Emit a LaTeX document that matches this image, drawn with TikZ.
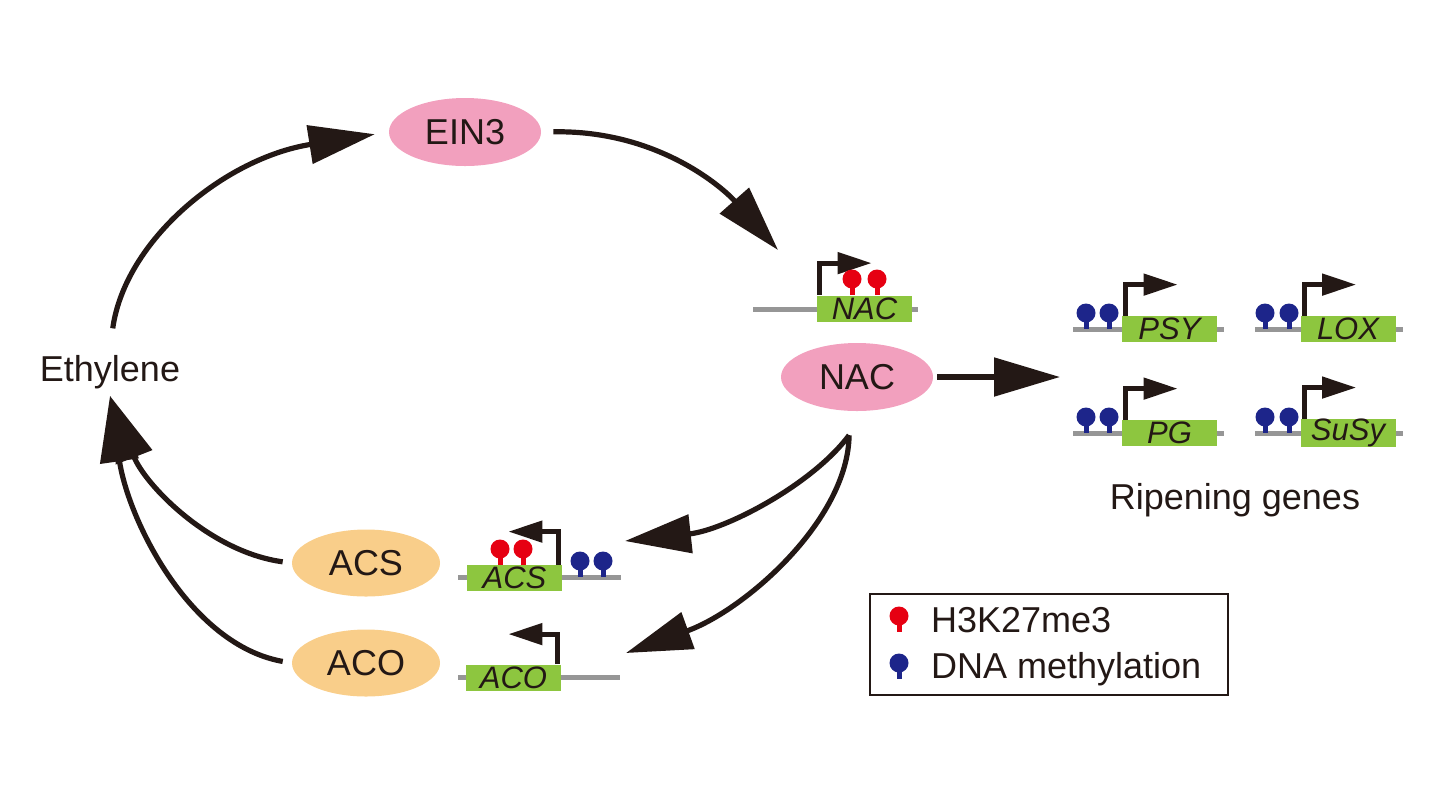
\documentclass[tikz,border=0pt]{standalone}
\usepackage{fontspec}
\setmainfont{Liberation Sans}
\usepackage{tikz}
\usetikzlibrary{arrows.meta, positioning, shapes.geometric}
\definecolor{ink}{RGB}{35,24,21}
\definecolor{nacpink}{RGB}{242,160,190}
\definecolor{acorange}{RGB}{249,206,138}
\definecolor{genegreen}{RGB}{141,198,63}
\definecolor{dnagrey}{RGB}{150,150,150}
\definecolor{hmred}{RGB}{230,0,18}
\definecolor{dmblue}{RGB}{29,37,138}
\tikzstyle{protein} = [ellipse, fill=nacpink, minimum width=76pt, minimum height=34pt, inner sep=0pt, text=ink, font=\fontsize{18}{20}\selectfont]
\tikzstyle{enzyme} = [protein, fill=acorange, minimum width=74pt, minimum height=33.5pt]
\tikzstyle{plaintext} = [text=ink, font=\fontsize{18}{20}\selectfont]
\tikzstyle{genebox} = [rectangle, fill=genegreen, minimum width=47.5pt, minimum height=13pt, inner sep=0pt, text=ink, font=\fontsize{15.5}{16}\selectfont\itshape]
\tikzstyle{arrow} = [line width=2.6pt, draw=ink, -{Triangle[length=33pt,width=19pt]}]
\tikzstyle{promoter} = [line width=2.4pt, draw=ink, -{Triangle[length=17pt,width=10.5pt]}]
\tikzstyle{dna} = [line width=2.5pt, draw=dnagrey]
\tikzset{pics/lolli/.style={code={
  \fill[#1] (-2.5,0) rectangle (2.5,-8);
  \fill[#1] (0,-16) circle[radius=9.5];
}}}

\begin{document}
\begin{tikzpicture}[x=0.5pt, y=-0.5pt]
        \useasboundingbox (0,0) rectangle (1440,800);

        % proteins and labels
        \node (ein3) [protein] at (465,132) {EIN3};
        \node (nac) [protein] at (857,377) {NAC};
        \node (acs) [enzyme] at (366,563) {ACS};
        \node (aco) [enzyme] at (366,663) {ACO};
        \node (ethylene) [plaintext] at (110,372) {Ethylene};
        \node (ripening) [plaintext] at (1235,500) {Ripening genes};

        % genes
        \draw[dna] (753,309) -- (918,309);
        \node (nacgene) [genebox] at (864.5,308.5) {NAC};
        \draw[dna] (1073,329) -- (1224,329);
        \node (psy) [genebox] at (1169.5,329) {PSY};
        \draw[dna] (1255,329) -- (1403,329);
        \node (lox) [genebox] at (1348,329) {LOX};
        \draw[dna] (1073,433) -- (1224,433);
        \node (pg) [genebox] at (1169.5,433) {PG};
        \draw[dna] (1255,433) -- (1403,433);
        \node (susy) [genebox] at (1348,433) {SuSy};
        \draw[dna] (458,577) -- (621,577);
        \node (acsgene) [genebox] at (514.5,578) {ACS};
        \draw[dna] (458,677) -- (620,677);
        \node (acogene) [genebox] at (513.5,677.5) {ACO};

        % transcription start sites
        \draw[promoter] ([xshift=1.5pt]nacgene.north west) -- ++(0,-32) -- ++(52,0);
        \draw[promoter] ([xshift=2pt]psy.north west) -- ++(0,-31) -- ++(52,0);
        \draw[promoter] ([xshift=2pt]lox.north west) -- ++(0,-31) -- ++(52,0);
        \draw[promoter] ([xshift=2pt]pg.north west) -- ++(0,-31) -- ++(52,0);
        \draw[promoter] ([xshift=2pt]susy.north west) -- ++(0,-31) -- ++(52,0);
        \draw[promoter] ([xshift=-2pt]acsgene.north east) -- ++(0,-33) -- ++(-50,0);
        \draw[promoter] ([xshift=-2pt]acogene.north east) -- ++(0,-30) -- ++(-49,0);

        % marks
        \pic at (852,295) {lolli=hmred};
        \pic at (877,295) {lolli=hmred};
        \pic at (500,565) {lolli=hmred};
        \pic at (523,565) {lolli=hmred};
        \pic at (580,577) {lolli=dmblue};
        \pic at (603,577) {lolli=dmblue};
        \pic at (1086,329) {lolli=dmblue};
        \pic at (1109,329) {lolli=dmblue};
        \pic at (1265,329) {lolli=dmblue};
        \pic at (1289,329) {lolli=dmblue};
        \pic at (1086,433) {lolli=dmblue};
        \pic at (1109,433) {lolli=dmblue};
        \pic at (1265,433) {lolli=dmblue};
        \pic at (1289,433) {lolli=dmblue};

        % legend
        \node (legend) [draw=ink, line width=1pt, minimum width=179pt, minimum height=50.5pt] at (1049,644.5) {};
        \pic at (899,632) {lolli=hmred};
        \pic at (899,679) {lolli=dmblue};
        \node (h3k) [plaintext, anchor=west] at (924,620) {H3K27me3};
        \node (dnam) [plaintext, anchor=west] at (924,669) {DNA methylation};

        % free ends
        \coordinate (nacin) at (778,250);
        \coordinate (ripen) at (1060,377);
        \coordinate (acsin) at (625,541);
        \coordinate (acoin) at (626,653);

        % Draw edges
        \draw[arrow, shorten <=10pt, shorten >=7pt] (ethylene.north) .. controls (125,240) and (225,158) .. (ein3.west);
        \draw[arrow, shorten <=6pt] (ein3.east) .. controls (660,130) and (725,190) .. (nacin);
        \draw[arrow, shorten <=2pt] (nac.east) -- (ripen);
        \draw[arrow] ([yshift=-12pt]nac.-103) .. controls (812,485) and (725,530) .. (acsin);
        \draw[arrow] ([yshift=-12pt]nac.-103) .. controls (848,520) and (745,610) .. (acoin);
        \draw[arrow, shorten <=4.5pt] (acs.west) .. controls (210,552) and (145,485) .. (ethylene.south);
        \draw[arrow, shorten <=4.5pt] (aco.west) .. controls (190,645) and (128,520) .. (ethylene.south);

\end{tikzpicture}
\end{document}
